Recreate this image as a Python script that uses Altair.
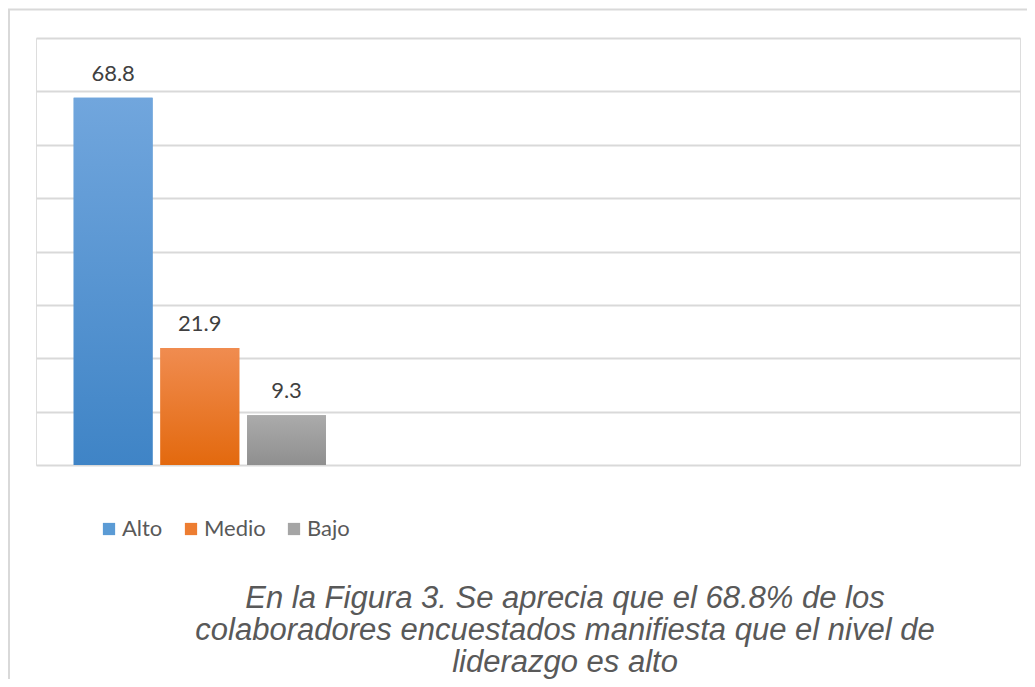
import altair as alt
import pandas as pd

categories = ["Alto", "Medio", "Bajo"]
values = [68.8, 21.9, 9.3]
labels = ["68.8", "21.9", "9.3"]
base_colors = ["#5b9bd5", "#ed7d31", "#a5a5a5"]
grad_top = ["#71a6dd", "#f08c50", "#ababab"]
grad_bottom = ["#3f84c6", "#e3690e", "#8f8f8f"]
y_ticks = [0, 10, 20, 30, 40, 50, 60, 70, 80]
empty_slots = ["_1", "_2", "_3", "_4", "_5", "_6", "_7", "_8"]
caption = ("En la Figura 3. Se aprecia que el 68.8% de los\n"
           "colaboradores encuestados manifiesta que el nivel de\n"
           "liderazgo es alto")

df = pd.DataFrame({"Nivel": categories, "Valor": values, "Etiqueta": labels})

W, H = 984, 427

x_enc = alt.X("Nivel:N", axis=None,
              scale=alt.Scale(domain=categories + empty_slots,
                              paddingInner=0.09, paddingOuter=0.22, align=0.988))
y_enc = alt.Y("Valor:Q", scale=alt.Scale(domain=[0, 80], nice=False),
              axis=alt.Axis(values=y_ticks, labels=False, ticks=False, domain=False,
                            grid=True, gridColor="#d9d9d9", gridWidth=2, title=None))

one = pd.DataFrame({"a": [0]})

border = alt.Chart(one).mark_rect(
    fillOpacity=0, stroke="#d9d9d9", strokeWidth=2).encode(
    x=alt.value(-27), x2=alt.value(W + 40),
    y=alt.value(-28.5), y2=alt.value(H + 260))

base = alt.Chart(df)

bars = base.mark_bar().encode(
    x=x_enc, y=y_enc,
    color=alt.Color("Nivel:N", sort=categories,
                    scale=alt.Scale(domain=categories, range=base_colors),
                    legend=alt.Legend(orient="none", legendX=62, legendY=480,
                                      direction="horizontal", title=None,
                                      symbolType="square", symbolSize=150,
                                      symbolStrokeWidth=0, labelFont="Lato",
                                      labelFontSize=22, labelColor="#595959",
                                      labelOffset=2, columnPadding=17, padding=0)),
)

layers = [border, bars]
for cat, top, bot in zip(categories, grad_top, grad_bottom):
    g = alt.Gradient(gradient="linear",
                     stops=[alt.GradientStop(color=top, offset=0),
                            alt.GradientStop(color=bot, offset=1)],
                     x1=0, x2=0, y1=0, y2=1)
    layers.append(base.transform_filter(alt.datum.Nivel == cat)
                  .mark_bar(fill=g).encode(x=x_enc, y=y_enc))

text = base.mark_text(font="Lato", fontSize=22, color="#404040",
                      baseline="alphabetic", dy=-17).encode(
    x=x_enc, y=y_enc, text="Etiqueta:N")
layers.append(text)

cap = alt.Chart(pd.DataFrame({"t": [caption]})).mark_text(
    font="Liberation Sans", fontStyle="italic", fontSize=31, color="#595959",
    lineBreak="\n", lineHeight=32, align="center", baseline="alphabetic").encode(
    x=alt.value(529), y=alt.value(570), text="t:N")
layers.append(cap)

chart = alt.layer(*layers).properties(
    width=W, height=H,
    autosize=alt.AutoSizeParams(type="none"),
    padding={"left": 28, "top": 30, "right": 7, "bottom": 214},
).configure_view(strokeWidth=0, strokeOpacity=0, stroke="transparent").configure(
    background="white")

chart.save("out.html", embed_options={"renderer": "svg", "actions": False})
